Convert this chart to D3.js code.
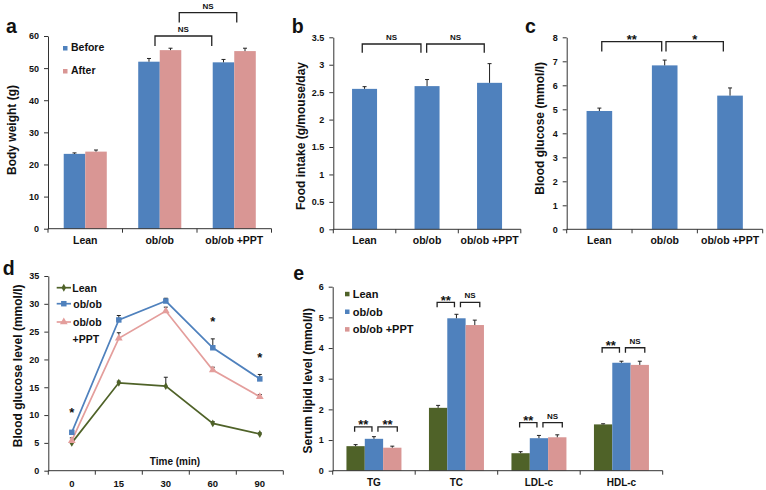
<!DOCTYPE html>
<html><head><meta charset="utf-8">
<script src="https://cdn.jsdelivr.net/npm/d3@7"></script>
<style>
body{margin:0;background:#fff}
svg{display:block}
text{font-family:"Liberation Sans",Arial,sans-serif;font-weight:bold;fill:#111}
</style>
</head><body>
<svg id="chart" width="766" height="490"></svg>
<script>
// ---------------- DATA ----------------
const groupsABC = ["Lean", "ob/ob", "ob/ob +PPT"];

// (a) body weight
const weightSeries = ["Before", "After"];
const weightBefore = [23.3, 52.0, 51.8];
const weightBeforeErr = [0.3, 1.0, 0.9];
const weightAfter = [24.0, 55.6, 55.3];
const weightAfterErr = [0.5, 0.6, 0.9];
const weightTicks = [0, 10, 20, 30, 40, 50, 60];

// (b) food intake
const foodIntake = [2.56, 2.61, 2.67];
const foodIntakeErr = [0.04, 0.12, 0.35];
const foodTicks = [0, 0.5, 1, 1.5, 2, 2.5, 3, 3.5];

// (c) blood glucose
const bloodGlucose = [4.93, 6.83, 5.57];
const bloodGlucoseErr = [0.12, 0.22, 0.32];
const glucoseTicks = [0, 1, 2, 3, 4, 5, 6, 7, 8];

// (d) glucose tolerance
const ogttTimes = ["0", "15", "30", "60", "90"];
const ogttSeries = ["Lean", "ob/ob", "ob/ob +PPT"];
const ogttLean = [5.0, 15.8, 15.2, 8.5, 6.6];
const ogttLeanErr = [0.2, 0.3, 1.6, 0.3, 0.2];
const ogttOb = [6.9, 27.1, 30.5, 22.1, 16.5];
const ogttObErr = [0.2, 0.8, 0.5, 1.6, 0.8];
const ogttPpt = [5.4, 23.8, 28.7, 18.1, 13.3];
const ogttPptErr = [0.5, 1.0, 0.7, 0.5, 0.4];
const ogttTicks = [0, 5, 10, 15, 20, 25, 30, 35];
const ogttStarTimes = ["0", "60", "90"];
const ogttStarLevels = [11.0, 27.3, 20.9];

// (e) serum lipids
const lipidCats = ["TG", "TC", "LDL-c", "HDL-c"];
const lipidSeries = ["Lean", "ob/ob", "ob/ob +PPT"];
const lipidLean = [0.80, 2.05, 0.57, 1.51];
const lipidLeanErr = [0.05, 0.08, 0.05, 0.02];
const lipidOb = [1.04, 4.97, 1.06, 3.52];
const lipidObErr = [0.07, 0.13, 0.09, 0.05];
const lipidPpt = [0.75, 4.75, 1.09, 3.45];
const lipidPptErr = [0.05, 0.16, 0.08, 0.12];
const lipidTicks = [0, 1, 2, 3, 4, 5, 6];
const lipidSigLeft = ["**", "**", "**", "**"];
const lipidSigRight = ["**", "NS", "NS", "NS"];
const lipidBracketLevel = [1.43, 5.49, 1.57, 4.01];

// ---------------- STYLE ----------------
const BLUE = "#4f81bd", PINK = "#d99694", GREEN = "#4f6228", PINKLINE = "#e49e9c";
const AX = "#333", ERR = "#222";

const svg = d3.select("#chart");

function yAxis(y, x0, ticks) {
  const g = svg.append("g").attr("transform", `translate(${x0},0)`)
    .call(d3.axisLeft(y).tickValues(ticks).tickSize(4).tickPadding(5).tickSizeOuter(0).tickFormat(d => String(d)));
  g.select(".domain").attr("stroke", AX);
  g.selectAll(".tick line").attr("stroke", AX);
  g.selectAll(".tick text").attr("font-size", 9).attr("font-family", null).attr("fill", "#111");
  return g;
}
function xAxis(x, yb, fontSize, labelDy) {
  const [r0, r1] = x.range();
  svg.append("line").attr("x1", r0).attr("x2", r1).attr("y1", yb).attr("y2", yb).attr("stroke", AX);
  const bounds = x.domain().map(d => x(d)).concat([r1]);
  svg.selectAll(null).data(bounds).enter().append("line")
    .attr("x1", d => d).attr("x2", d => d).attr("y1", yb).attr("y2", yb + 4).attr("stroke", AX);
  svg.selectAll(null).data(x.domain()).enter().append("text")
    .attr("x", d => x(d) + x.bandwidth() / 2).attr("y", yb + labelDy)
    .attr("text-anchor", "middle").attr("font-size", fontSize).text(d => d);
}
function yTitle(txt, cx, cy) {
  svg.append("text").attr("transform", `translate(${cx + 3.5},${cy}) rotate(-90)`)
    .attr("text-anchor", "middle").attr("font-size", 12).text(txt);
}
function letter(t, x, y) {
  svg.append("text").attr("x", x).attr("y", y).attr("font-size", 19.5).text(t);
}
function errBar(cx, yTop, yEnd) {
  svg.append("line").attr("x1", cx).attr("x2", cx).attr("y1", yTop).attr("y2", yEnd).attr("stroke", ERR).attr("stroke-width", 1);
  svg.append("line").attr("x1", cx - 2).attr("x2", cx + 2).attr("y1", yEnd).attr("y2", yEnd).attr("stroke", ERR).attr("stroke-width", 1);
}
function bracket(x1, x2, yt, leg, label) {
  svg.append("path").attr("d", `M${x1},${yt + leg}V${yt}H${x2}V${yt + leg}`)
    .attr("fill", "none").attr("stroke", "#222").attr("stroke-width", 1.3);
  const isNS = label === "NS";
  svg.append("text").attr("x", (x1 + x2) / 2).attr("y", isNS ? yt - 4 : yt + 2.5)
    .attr("text-anchor", "middle").attr("font-size", isNS ? 8 : 13).text(label);
}

// ---------------- PANEL A ----------------
{
  const L = 48, R = 271.5, T = 36, B = 228.7;
  const x = d3.scaleBand().domain(groupsABC).range([L, R]);
  const bw = x.bandwidth();
  const x1 = d3.scaleBand().domain(weightSeries).range([bw * 0.211, bw * 0.789]);
  const y = d3.scaleLinear().domain([0, 60]).range([B, T]);
  const ser = [
    { name: "Before", vals: weightBefore, errs: weightBeforeErr, color: BLUE },
    { name: "After", vals: weightAfter, errs: weightAfterErr, color: PINK }
  ];
  ser.forEach(s => {
    groupsABC.forEach((gname, i) => {
      const xx = x(gname) + x1(s.name);
      svg.append("rect").attr("x", xx).attr("width", x1.bandwidth())
        .attr("y", y(s.vals[i])).attr("height", B - y(s.vals[i])).attr("fill", s.color);
      errBar(xx + x1.bandwidth() / 2, y(s.vals[i]), y(s.vals[i] + s.errs[i]));
    });
  });
  yAxis(y, L, weightTicks);
  xAxis(x, B, 10.5, 15);
  const c = g => x(g) + bw / 2;
  bracket(c("ob/ob") - 4.75, c("ob/ob +PPT") - 22.5, y(60), 10, "NS");
  bracket(c("ob/ob") + 19.5, c("ob/ob +PPT") + 2.5, y(67.3), 10, "NS");
  // legend
  ser.forEach((s, i) => {
    const by = [51, 74][i];
    svg.append("rect").attr("x", 63).attr("y", by - 5).attr("width", 4.5).attr("height", 4.5).attr("fill", s.color);
    svg.append("text").attr("x", 71).attr("y", by).attr("font-size", 10.5).text(s.name);
  });
  yTitle("Body weight (g)", 12, 130);
  letter("a", 6, 33.3);
}

// ---------------- PANEL B / C ----------------
function singleBars(L, R, T, B, dom, vals, errs, ticks, inset) {
  const x = d3.scaleBand().domain(groupsABC).range([L, R]);
  const bw = x.bandwidth();
  const y = d3.scaleLinear().domain(dom).range([B, T]);
  groupsABC.forEach((gname, i) => {
    const xx = x(gname) + bw * inset, w = bw * (1 - 2 * inset);
    svg.append("rect").attr("x", xx).attr("width", w)
      .attr("y", y(vals[i])).attr("height", B - y(vals[i])).attr("fill", BLUE);
    errBar(xx + w / 2, y(vals[i]), y(vals[i] + errs[i]));
  });
  yAxis(y, L, ticks);
  xAxis(x, B, 10.5, 15);
  return { x, y, c: g => x(g) + bw / 2 };
}
{
  const p = singleBars(333.3, 520.8, 37.3, 229.3, [0, 3.5], foodIntake, foodIntakeErr, foodTicks, 0.3);
  bracket(p.c("Lean") - 2.3, p.c("ob/ob") - 6.1, p.y(3.378), 8.7, "NS");
  bracket(p.c("ob/ob") - 0.4, p.c("ob/ob +PPT") - 5.3, p.y(3.378), 8.7, "NS");
  yTitle("Food intake (g/mouse/day", 301.7, 136);
  letter("b", 291.7, 33.3);
}
{
  const p = singleBars(566.7, 762.7, 37.3, 229.3, [0, 8], bloodGlucose, bloodGlucoseErr, glucoseTicks, 0.304);
  bracket(p.c("Lean") + 2.4, p.c("ob/ob") - 3, p.y(7.82), 10, "**");
  bracket(p.c("ob/ob") + 1.3, p.c("ob/ob +PPT") - 6.7, p.y(7.82), 10, "*");
  yTitle("Blood glucose (mmol/l)", 540, 128.3);
  letter("c", 525, 33.3);
}

// ---------------- PANEL D ----------------
{
  const L = 48.3, R = 283.3, T = 276, B = 470.7;
  const x = d3.scaleBand().domain(ogttTimes).range([L, R]);
  const bw = x.bandwidth();
  const cx = t => x(t) + bw / 2;
  const y = d3.scaleLinear().domain([0, 35]).range([B, T]);
  const ser = [
    { name: "Lean", vals: ogttLean, errs: ogttLeanErr, color: GREEN, sym: d3.symbolDiamond, size: 18 },
    { name: "ob/ob +PPT", vals: ogttPpt, errs: ogttPptErr, color: PINKLINE, sym: d3.symbolTriangle, size: 26 },
    { name: "ob/ob", vals: ogttOb, errs: ogttObErr, color: BLUE, sym: d3.symbolSquare, size: 30 }
  ];
  yAxis(y, L, ogttTicks);
  xAxis(x, B, 9.5, 16);
  const line = d3.line().x((d, i) => cx(ogttTimes[i])).y(d => y(d));
  ser.forEach(s => {
    s.vals.forEach((v, i) => errBar(cx(ogttTimes[i]), y(v), y(v + s.errs[i])));
  });
  ser.forEach(s => {
    svg.append("path").attr("d", line(s.vals)).attr("fill", "none").attr("stroke", s.color).attr("stroke-width", 1.7);
    s.vals.forEach((v, i) => {
      svg.append("path").attr("d", d3.symbol(s.sym, s.size)())
        .attr("transform", `translate(${cx(ogttTimes[i])},${y(v)})`).attr("fill", s.color);
    });
  });
  ogttStarTimes.forEach((t, i) => {
    svg.append("text").attr("x", cx(t)).attr("y", y(ogttStarLevels[i]) + 7.5)
      .attr("text-anchor", "middle").attr("font-size", 13).text("*");
  });
  // legend
  const legY = { "Lean": 287.7, "ob/ob": 303.7, "ob/ob +PPT": 322 };
  ser.forEach(s => {
    const ly = legY[s.name];
    svg.append("line").attr("x1", 56.7).attr("x2", 71).attr("y1", ly).attr("y2", ly).attr("stroke", s.color).attr("stroke-width", 1.7);
    svg.append("path").attr("d", d3.symbol(s.sym, s.size)()).attr("transform", `translate(63.8,${ly})`).attr("fill", s.color);
    if (s.name === "ob/ob +PPT") {
      svg.append("text").attr("x", 73).attr("y", ly + 3.8).attr("font-size", 10.5).text("ob/ob");
      svg.append("text").attr("x", 72.5).attr("y", 339.3 + 3.8).attr("font-size", 10.5).text("+PPT");
    } else {
      svg.append("text").attr("x", s.name === "Lean" ? 72.3 : 73.3).attr("y", ly + 3.8).attr("font-size", 10.5).text(s.name);
    }
  });
  svg.append("text").attr("x", 175).attr("y", 465.3).attr("text-anchor", "middle").attr("font-size", 10).text("Time (min)");
  yTitle("Blood glucose level (mmol/l)", 18.3, 365.8);
  letter("d", 2.7, 275);
}

// ---------------- PANEL E ----------------
{
  const L = 332.7, R = 662.7, T = 286.7, B = 470.7;
  const x = d3.scaleBand().domain(lipidCats).range([L, R]);
  const bw = x.bandwidth();
  const x1 = d3.scaleBand().domain(lipidSeries).range([bw * 0.1667, bw * 0.8333]);
  const y = d3.scaleLinear().domain([0, 6]).range([B, T]);
  const ser = [
    { name: "Lean", vals: lipidLean, errs: lipidLeanErr, color: GREEN },
    { name: "ob/ob", vals: lipidOb, errs: lipidObErr, color: BLUE },
    { name: "ob/ob +PPT", vals: lipidPpt, errs: lipidPptErr, color: PINK }
  ];
  ser.forEach(s => {
    lipidCats.forEach((cat, i) => {
      const xx = x(cat) + x1(s.name);
      svg.append("rect").attr("x", xx).attr("width", x1.bandwidth())
        .attr("y", y(s.vals[i])).attr("height", B - y(s.vals[i])).attr("fill", s.color);
      errBar(xx + x1.bandwidth() / 2, y(s.vals[i]), y(s.vals[i] + s.errs[i]));
    });
  });
  yAxis(y, L, lipidTicks);
  xAxis(x, B, 10, 15);
  lipidCats.forEach((cat, i) => {
    const c = n => x(cat) + x1(n) + x1.bandwidth() / 2;
    const yt = y(lipidBracketLevel[i]);
    bracket(c("Lean") - 1, c("ob/ob") - 2, yt, 5, lipidSigLeft[i]);
    bracket(c("ob/ob") + 4, c("ob/ob +PPT") + 5, yt, 5, lipidSigRight[i]);
  });
  const legY = [294, 311.7, 329.3];
  ser.forEach((s, i) => {
    svg.append("rect").attr("x", 345).attr("y", legY[i] - 2.2).attr("width", 4.5).attr("height", 4.5).attr("fill", s.color);
    svg.append("text").attr("x", 352.7).attr("y", legY[i] + 4).attr("font-size", 11).text(s.name);
  });
  yTitle("Serum lipid level (mmol/l)", 308.3, 380.8);
  letter("e", 293.3, 280);
}
</script>
</body></html>
